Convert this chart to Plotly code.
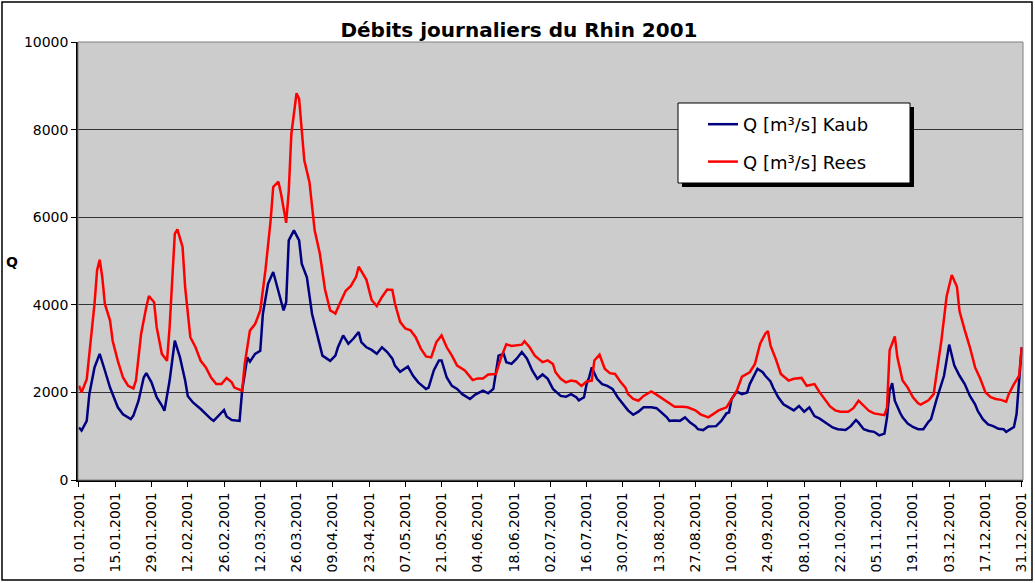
import pandas as pd
import plotly.graph_objects as go

# Day offsets from 01.01.2001 and discharge values
kaub_days = [0,1,3,4,6,8,10,12,14,15,17,20,21,23,25,26,28,30,32,33,35,37,39,41,42,44,47,49,51,52,54,56,57,59,62,63,65,66,68,70,71,73,75,77,79,80,81,83,85,86,88,90,92,94,97,99,100,102,104,106,108,109,111,113,115,117,119,121,122,124,127,129,131,134,135,137,139,140,142,144,146,148,151,153,156,158,160,161,162,164,165,167,169,171,173,175,177,179,181,183,186,188,190,192,193,195,196,197,198,200,202,204,206,208,210,212,214,216,218,221,223,225,227,228,230,232,234,236,238,239,241,243,246,248,250,251,252,254,256,258,259,262,264,265,267,268,270,272,274,276,278,280,282,284,286,289,291,293,296,298,300,301,303,305,307,309,311,312,313,314,315,317,318,320,322,324,326,328,329,331,334,336,338,340,342,344,346,347,349,351,353,355,357,358,360,361,362,363,364]
kaub_q = [1200,1130,1350,1960,2570,2880,2500,2110,1810,1660,1500,1390,1470,1810,2340,2440,2230,1890,1700,1580,2270,3180,2800,2270,1920,1770,1620,1500,1390,1350,1470,1600,1450,1370,1350,2040,2800,2700,2880,2950,3790,4480,4750,4330,3870,4060,5470,5700,5470,4940,4630,3790,3340,2840,2720,2840,3030,3300,3110,3230,3380,3150,3030,2970,2880,3030,2920,2770,2610,2470,2590,2380,2230,2080,2110,2500,2730,2730,2340,2150,2080,1960,1850,1950,2040,1980,2080,2420,2840,2880,2690,2650,2770,2920,2770,2500,2310,2410,2310,2080,1920,1900,1960,1890,1820,1890,2190,2350,2570,2310,2190,2150,2080,1890,1730,1590,1490,1560,1660,1660,1640,1540,1430,1350,1360,1350,1430,1310,1230,1160,1140,1220,1230,1350,1520,1540,1850,2020,1960,2000,2190,2540,2460,2380,2250,2110,1890,1730,1660,1590,1690,1560,1660,1460,1400,1270,1200,1160,1140,1230,1370,1310,1160,1120,1100,1020,1060,1430,2040,2210,1810,1540,1430,1290,1210,1160,1160,1330,1390,1810,2380,3090,2610,2380,2190,1920,1730,1580,1390,1270,1230,1170,1160,1100,1170,1210,1500,2190,3030]

rees_days = [0,1,3,4,6,7,8,9,10,12,13,15,17,19,21,22,24,26,27,29,30,32,34,35,37,38,40,41,43,45,47,49,51,53,55,57,59,60,63,64,66,68,70,72,74,75,77,78,80,81,82,84,85,87,89,91,93,95,97,98,99,101,103,105,107,108,111,113,115,117,119,121,122,124,126,128,130,132,134,136,138,140,142,144,146,149,151,152,154,156,158,160,161,163,165,167,169,171,172,174,176,179,181,183,184,186,188,190,192,194,196,198,199,201,203,205,207,209,211,212,214,216,218,221,223,225,228,230,233,235,238,240,243,245,247,250,252,254,256,258,259,261,263,265,266,267,269,271,274,276,279,281,283,284,286,288,290,292,294,297,299,301,303,305,307,309,311,312,313,315,316,318,320,322,324,325,328,330,331,333,335,337,339,340,342,344,346,348,350,352,354,356,358,359,361,363,364]
rees_q = [2150,2000,2300,2880,4020,4790,5030,4630,4020,3640,3180,2720,2340,2150,2090,2270,3340,3950,4200,4060,3490,2880,2720,3490,5620,5720,5320,4400,3260,3030,2720,2570,2340,2190,2190,2330,2230,2110,2040,2650,3410,3560,3870,4790,5930,6690,6810,6540,5870,6600,7900,8830,8700,7300,6800,5700,5170,4350,3870,3840,3800,4070,4320,4430,4640,4870,4570,4110,3970,4180,4350,4340,4030,3610,3460,3420,3260,3000,2820,2800,3150,3300,3030,2840,2610,2500,2340,2280,2320,2320,2410,2410,2420,2800,3100,3060,3070,3090,3170,3030,2840,2690,2730,2650,2460,2310,2230,2270,2250,2150,2250,2270,2730,2860,2540,2440,2420,2250,2110,1960,1850,1810,1920,2020,1950,1870,1770,1670,1670,1660,1590,1500,1430,1500,1590,1660,1850,2040,2360,2420,2460,2650,3110,3340,3400,3070,2770,2420,2270,2310,2330,2150,2170,2190,2000,1850,1680,1590,1560,1560,1640,1810,1690,1580,1520,1500,1480,1660,2960,3280,2800,2270,2110,1890,1750,1720,1820,1960,2340,3190,4190,4680,4410,3850,3420,3030,2570,2310,2000,1890,1850,1830,1790,1960,2190,2380,3030]

tick_days = list(range(0, 365, 14))
y_ticks = [0, 2000, 4000, 6000, 8000, 10000]
y_tick_text = ["0", "2000", "4000", "6000", "8000", "10000"]

start = pd.Timestamp("2001-01-01")
kaub_x = [start + pd.Timedelta(days=d) for d in kaub_days]
rees_x = [start + pd.Timedelta(days=d) for d in rees_days]
tick_x = [start + pd.Timedelta(days=d) for d in tick_days]
tick_text = [t.strftime("%d.%m.%Y") for t in tick_x]

W, H = 1035, 583
L, R, T, B = 78, 1023, 42, 480
PW, PH = R - L, B - T

def px(X):
    return (X - L) / PW

def py(Y):
    return (B - Y) / PH

FONT = "DejaVu Sans, Verdana, sans-serif"

fig = go.Figure()
fig.add_trace(go.Scatter(x=kaub_x, y=kaub_q, mode="lines", name="Q [m³/s] Kaub",
                         line=dict(color="#000080", width=2.5), legendgroup="k"))
fig.add_trace(go.Scatter(x=rees_x, y=rees_q, mode="lines", name="Q [m³/s] Rees",
                         line=dict(color="#FF0000", width=2.5), legendgroup="r"))

shapes = [
    # outer frame
    dict(type="rect", xref="paper", yref="paper", x0=px(2), x1=px(1032), y0=py(580), y1=py(2),
         line=dict(color="black", width=1.5), fillcolor="rgba(0,0,0,0)", layer="above"),
    # plot area border
    dict(type="rect", xref="paper", yref="paper", x0=0, x1=1, y0=0, y1=1,
         line=dict(color="#808080", width=1), fillcolor="rgba(0,0,0,0)", layer="above"),
    # legend shadow
    dict(type="rect", xref="paper", yref="paper", x0=px(682), x1=px(914), y0=py(187), y1=py(107),
         line=dict(color="black", width=0), fillcolor="black", layer="above"),
    # legend box
    dict(type="rect", xref="paper", yref="paper", x0=px(678), x1=px(910), y0=py(183), y1=py(103),
         line=dict(color="black", width=1), fillcolor="white", layer="above"),
]

fig.update_layout(
    width=W, height=H,
    margin=dict(l=L, r=W - R, t=T, b=H - B, pad=0, autoexpand=False),
    paper_bgcolor="white",
    plot_bgcolor="#CCCCCC",
    font=dict(family=FONT, size=14, color="black"),
    title=dict(text="<b>Débits journaliers du Rhin 2001</b>", x=px(519), xref="paper",
               xanchor="center", y=1 - 30 / H, yref="container", yanchor="middle",
               font=dict(family=FONT, size=20, color="black")),
    showlegend=True,
    legend=dict(x=px(703), y=py(106), xanchor="left", yanchor="top",
                bgcolor="rgba(0,0,0,0)", borderwidth=0,
                font=dict(family=FONT, size=18, color="black"),
                traceorder="grouped", tracegroupgap=11, itemwidth=30),
    shapes=shapes,
    annotations=[dict(text="<b>Q</b>", xref="paper", yref="paper", x=px(12), y=py(262),
                      showarrow=False, xanchor="center", yanchor="middle",
                      font=dict(family=FONT, size=14, color="black"))],
)

fig.update_xaxes(
    type="date", automargin=False,
    range=[start - pd.Timedelta(hours=9), start + pd.Timedelta(days=364, hours=12)],
    tickmode="array", tickvals=tick_x, ticktext=tick_text, tickangle=-90,
    ticks="outside", ticklen=5, tickcolor="black",
    showline=True, linecolor="black", linewidth=1.5,
    showgrid=False, zeroline=False,
    tickfont=dict(family=FONT, size=14, color="black"),
)
fig.update_yaxes(
    automargin=False,
    range=[0, 10000], tickmode="array", tickvals=y_ticks, ticktext=y_tick_text,
    ticks="outside", ticklen=5, tickcolor="black",
    showline=True, linecolor="black", linewidth=1.5,
    showgrid=True, gridcolor="#333333", gridwidth=1.2, zeroline=False,
    tickfont=dict(family=FONT, size=14, color="black"),
)

fig.write_html("out.html", config={"displayModeBar": False},
               post_script="document.body.style.margin='0px';")
